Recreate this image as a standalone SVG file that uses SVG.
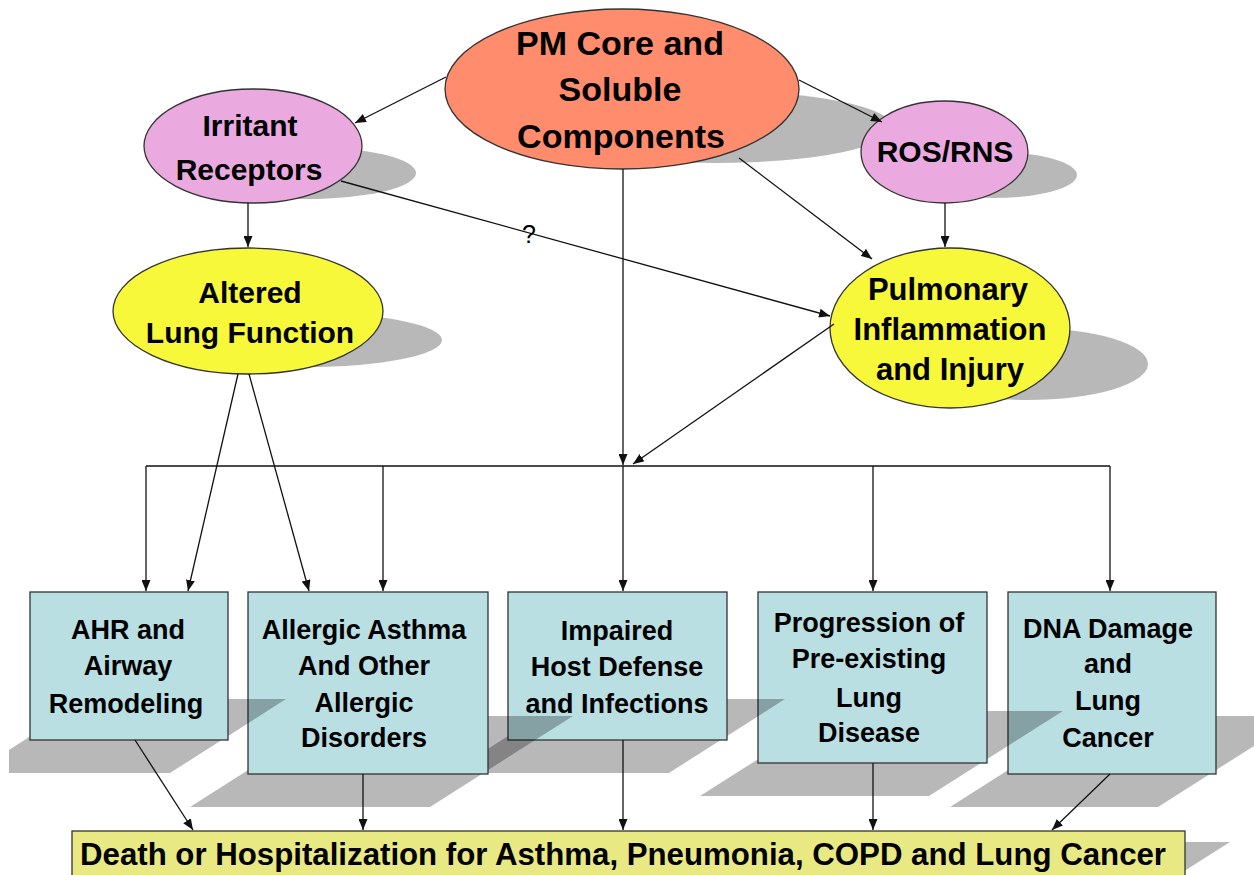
<svg xmlns="http://www.w3.org/2000/svg" width="1254" height="875" viewBox="0 0 1254 875">
  <defs>
    <marker id="arrow" markerUnits="userSpaceOnUse" markerWidth="11" markerHeight="9" refX="11" refY="4.5" orient="auto">
      <path d="M0,0 L11,4.5 L0,9 z" fill="#111"/>
    </marker>
  </defs>
  <style>
    .shadow { fill: #000; fill-opacity: 0.28; }
    .node { stroke: #333; stroke-width: 1.3; }
    .pm { fill: #FF8C6C; }
    .pink { fill: #EAAAE0; }
    .yellow { fill: #F8F83A; }
    .box { fill: #BADFE3; }
    .bar { fill: #E9E983; }
    text { font-family: "Liberation Sans", Arial, sans-serif; font-weight: bold; fill: #000; text-anchor: middle; }
    .t34 { font-size: 34px; }
    .t30 { font-size: 30px; }
    .t31 { font-size: 31px; }
    .t27 { font-size: 27px; }
    .conn line, .conn path { stroke: #111; stroke-width: 1.3; fill: none; }
    .q { font-weight: normal; font-size: 25px; }
  </style>
  <rect width="1254" height="875" fill="#fff"/>

  <!-- ellipse nodes -->
  <g id="pm-core">
    <ellipse class="shadow" cx="716" cy="127" rx="177" ry="36"/>
    <ellipse class="node pm" cx="622" cy="89" rx="177" ry="80"/>
    <text class="t34" x="620" y="55">PM Core and</text>
    <text class="t34" x="620" y="101">Soluble</text>
    <text class="t34" x="621" y="148">Components</text>
  </g>

  <g id="irritant-receptors">
    <ellipse class="shadow" cx="307" cy="173" rx="109" ry="26"/>
    <ellipse class="node pink" cx="253" cy="146" rx="109" ry="57"/>
    <text class="t30" x="250" y="136">Irritant</text>
    <text class="t30" x="249" y="180">Receptors</text>
  </g>

  <g id="ros-rns">
    <ellipse class="shadow" cx="994" cy="175" rx="83" ry="23"/>
    <ellipse class="node pink" cx="944.5" cy="152" rx="83.5" ry="51"/>
    <text class="t30" x="945" y="162">ROS/RNS</text>
  </g>

  <g id="altered-lung-function">
    <ellipse class="shadow" cx="307" cy="340" rx="135" ry="27"/>
    <ellipse class="node yellow" cx="248" cy="311" rx="135" ry="63"/>
    <text class="t30" x="250" y="303">Altered</text>
    <text class="t30" x="250" y="343">Lung Function</text>
  </g>

  <g id="pulmonary-inflammation">
    <ellipse class="shadow" cx="1028" cy="364" rx="120" ry="36"/>
    <ellipse class="node yellow" cx="950" cy="328" rx="120" ry="80"/>
    <text class="t31" x="948" y="300">Pulmonary</text>
    <text class="t31" x="950" y="340">Inflammation</text>
    <text class="t31" x="950" y="380">and Injury</text>
  </g>

  <!-- outcome boxes, drawn right to left so each shadow falls across its right-hand neighbour -->
  <g id="dna-damage">
    <polygon class="shadow" points="950,807 1158,807 1301,716 1093,716"/>
    <rect class="node box" x="1008" y="592" width="208" height="182"/>
    <text class="t27" x="1108" y="638">DNA Damage</text>
    <text class="t27" x="1108" y="673">and</text>
    <text class="t27" x="1108" y="710">Lung</text>
    <text class="t27" x="1108" y="747">Cancer</text>
  </g>

  <g id="progression">
    <polygon class="shadow" points="700,796 929,796 1063,711 834,711"/>
    <rect class="node box" x="758" y="592" width="229" height="171"/>
    <text class="t27" x="869" y="632">Progression of</text>
    <text class="t27" x="869" y="668">Pre-existing</text>
    <text class="t27" x="869" y="707">Lung</text>
    <text class="t27" x="869" y="742">Disease</text>
  </g>

  <g id="impaired-host-defense">
    <polygon class="shadow" points="450,773 669,773 785,699 566,699"/>
    <rect class="node box" x="508" y="592" width="219" height="148"/>
    <text class="t27" x="617" y="640">Impaired</text>
    <text class="t27" x="617" y="676">Host Defense</text>
    <text class="t27" x="617" y="713">and Infections</text>
  </g>

  <g id="allergic-asthma">
    <polygon class="shadow" points="190,807 430,807 573,716 333,716"/>
    <rect class="node box" x="248" y="592" width="240" height="182"/>
    <text class="t27" x="364" y="639">Allergic Asthma</text>
    <text class="t27" x="364" y="675">And Other</text>
    <text class="t27" x="364" y="712">Allergic</text>
    <text class="t27" x="364" y="747">Disorders</text>
  </g>

  <g id="ahr-remodeling">
    <polygon class="shadow" points="9,773 170,773 286,699 88,699 9,750"/>
    <rect class="node box" x="30" y="592" width="198" height="148"/>
    <text class="t27" x="128" y="639">AHR and</text>
    <text class="t27" x="128" y="675">Airway</text>
    <text class="t27" x="126" y="713">Remodeling</text>
  </g>

  <g id="death-hospitalization">
    <polygon class="shadow" points="1100,842 1230,842 1178,875 1100,875"/>
    <rect class="node bar" x="72" y="831" width="1113" height="60"/>
    <text class="t31" x="623" y="865" textLength="1086" lengthAdjust="spacingAndGlyphs">Death or Hospitalization for Asthma, Pneumonia, COPD and Lung Cancer</text>
  </g>

  <!-- connectors -->
  <g id="connectors" class="conn">
    <line x1="446" y1="77" x2="355" y2="123" marker-end="url(#arrow)"/>
    <line x1="799" y1="80" x2="882" y2="122" marker-end="url(#arrow)"/>
    <line x1="739" y1="158" x2="872" y2="259" marker-end="url(#arrow)"/>
    <line x1="248" y1="203" x2="248" y2="247" marker-end="url(#arrow)"/>
    <line x1="945" y1="203" x2="945" y2="247" marker-end="url(#arrow)"/>
    <line x1="341" y1="181" x2="830" y2="316" marker-end="url(#arrow)"/>
    <line x1="623" y1="169" x2="623" y2="465" marker-end="url(#arrow)"/>
    <line x1="834" y1="324" x2="633" y2="464" marker-end="url(#arrow)"/>
    <!-- distribution bus -->
    <line x1="146" y1="466" x2="1110" y2="466"/>
    <line x1="146" y1="466" x2="146" y2="591" marker-end="url(#arrow)"/>
    <line x1="383" y1="466" x2="383" y2="591" marker-end="url(#arrow)"/>
    <line x1="623" y1="466" x2="623" y2="591" marker-end="url(#arrow)"/>
    <line x1="873" y1="466" x2="873" y2="591" marker-end="url(#arrow)"/>
    <line x1="1110" y1="466" x2="1110" y2="591" marker-end="url(#arrow)"/>
    <!-- altered lung function to boxes -->
    <line x1="238" y1="374" x2="188" y2="591" marker-end="url(#arrow)"/>
    <line x1="249" y1="374" x2="309" y2="591" marker-end="url(#arrow)"/>
    <!-- boxes to outcome bar -->
    <line x1="135" y1="740" x2="193" y2="830" marker-end="url(#arrow)"/>
    <line x1="363" y1="774" x2="363" y2="830" marker-end="url(#arrow)"/>
    <line x1="623" y1="740" x2="623" y2="830" marker-end="url(#arrow)"/>
    <line x1="873" y1="763" x2="873" y2="830" marker-end="url(#arrow)"/>
    <line x1="1110" y1="774" x2="1052" y2="830" marker-end="url(#arrow)"/>
    <text class="q" x="529" y="243">?</text>
  </g>
</svg>
